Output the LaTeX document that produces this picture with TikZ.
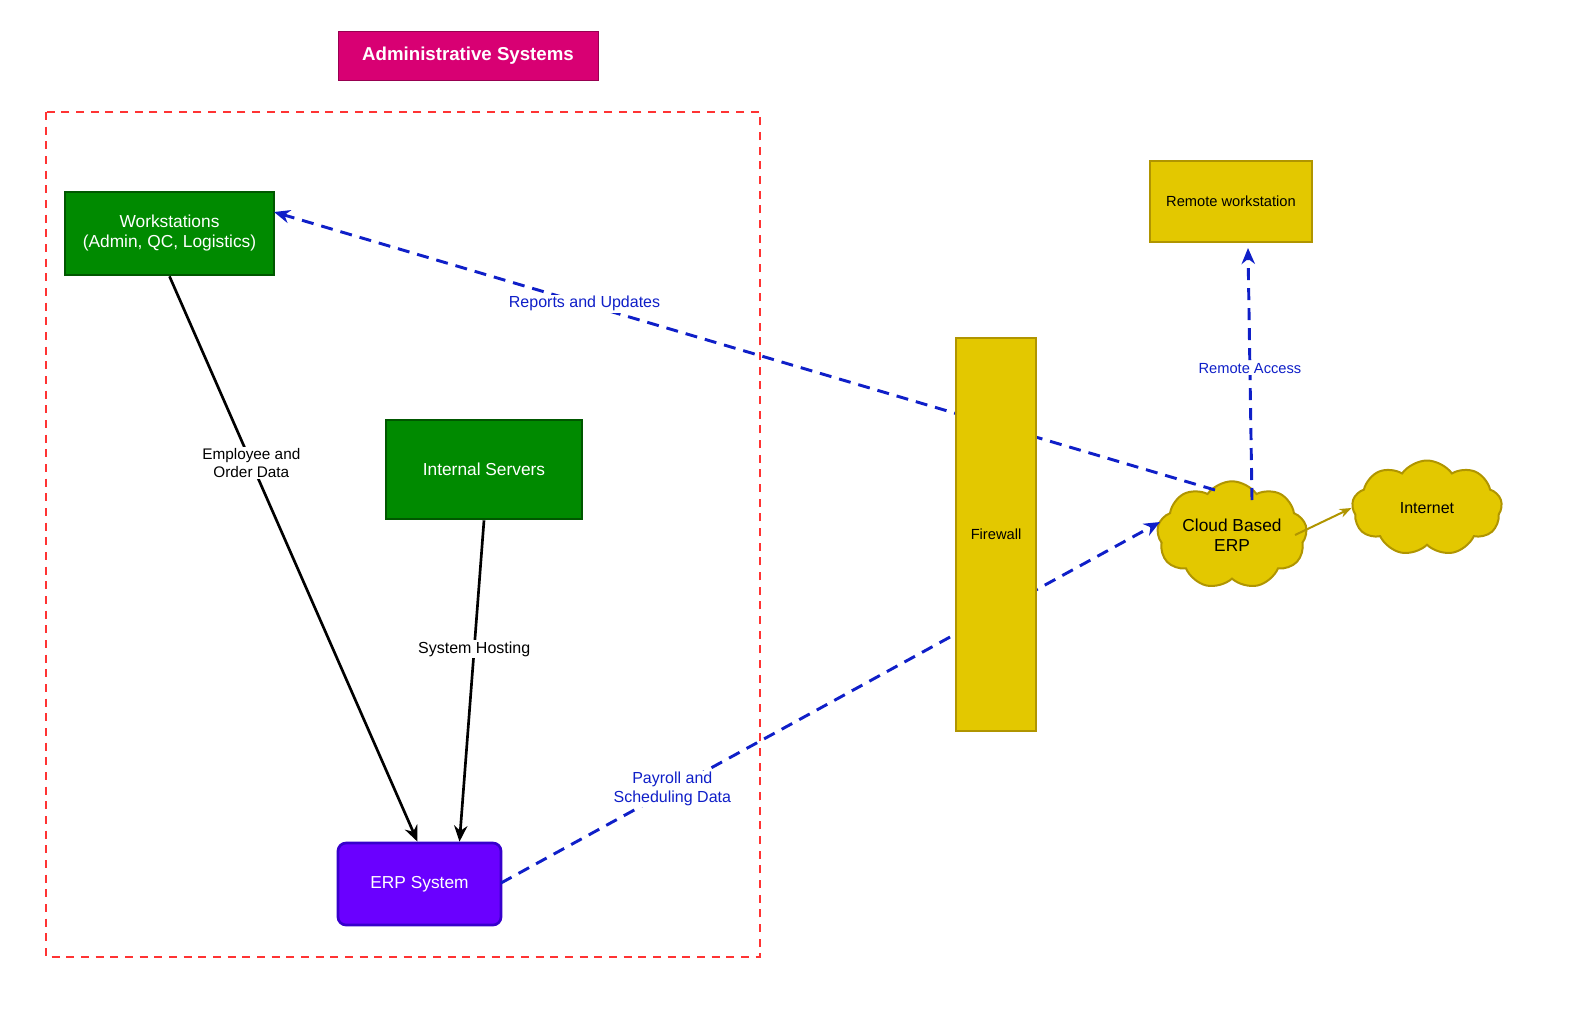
\documentclass[tikz,border=0pt]{standalone}
\usepackage{fontspec}
\setmainfont{Liberation Sans}
\usetikzlibrary{shapes.symbols,arrows.meta}
\definecolor{mag}{HTML}{D80073}
\definecolor{grn}{HTML}{008A00}
\definecolor{grnd}{HTML}{005700}
\definecolor{pur}{HTML}{6A00FF}
\definecolor{purd}{HTML}{3700CC}
\definecolor{yel}{HTML}{E3C800}
\definecolor{yeld}{HTML}{B09500}
\definecolor{blu}{HTML}{0F1FC8}
\begin{document}
\begin{tikzpicture}[x=0.75pt,y=-0.75pt,
 box/.style={draw,line width=2pt,text=white,align=center,font=\fontsize{13}{15}\selectfont},
 ybox/.style={draw=yeld,fill=yel,line width=1pt,align=center,font=\fontsize{11}{13}\selectfont},
 cl/.style={cloud,cloud puffs=9,cloud puff arc=110,aspect=1.6,draw=yeld,fill=yel,line width=1.5pt,align=center,inner sep=0pt},
 blk/.style={line width=2pt,-{Stealth[length=12pt,width=10pt]}},
 bdash/.style={blu,line width=2.2pt,dash pattern=on 9pt off 6pt,-{Stealth[length=12pt,width=10pt]}},
 lbl/.style={fill=white,inner sep=1pt,align=center,font=\fontsize{12}{14}\selectfont}]
\useasboundingbox (0,0) rectangle (1592,1032);
\node[fill=mag,draw=mag!70!black,text=white,font=\bfseries\fontsize{14}{16}\selectfont,minimum width=260*0.75pt,minimum height=49*0.75pt] (title) at (468,55.5) {Administrative Systems};
\draw[red!80,line width=1pt,dash pattern=on 6pt off 5pt] (46,112) rectangle (760,957);
\node[box,fill=grn,draw=grnd,minimum width=209*0.75pt,minimum height=83*0.75pt] (ws) at (169.5,233.5) {Workstations\\(Admin, QC, Logistics)};
\node[box,fill=grn,draw=grnd,minimum width=196*0.75pt,minimum height=99*0.75pt] (is) at (484,469.5) {Internal Servers};
\node[box,fill=pur,draw=purd,rounded corners=6pt,minimum width=163*0.75pt,minimum height=82*0.75pt] (erp) at (419.5,884) {ERP System};
\node[ybox,minimum width=162*0.75pt,minimum height=81*0.75pt] (rw) at (1231,201.5) {Remote workstation};
\node[cl,minimum width=150*0.75pt,minimum height=95*0.75pt,font=\fontsize{13}{15}\selectfont] (cerp) at (1232,535) {Cloud Based\\ERP};
\node[cl,minimum width=150*0.75pt,minimum height=95*0.75pt,font=\fontsize{12}{14}\selectfont] (inet) at (1427,508) {Internet};
\coordinate (c1) at (1215,490);
\coordinate (c2) at (1160,522);
\coordinate (c3) at (1252,500);
\coordinate (wsR) at (274,212);
\coordinate (erpR) at (501,883);
\coordinate (rwB) at (1248,248);
\draw[bdash] (c1) -- node[lbl,pos=0.67] {Reports and Updates} (wsR);
\draw[bdash] (erpR) -- node[lbl,pos=0.26] {Payroll and\\Scheduling Data} (c2);
\draw[bdash] (c3) -- node[lbl,pos=0.52,font=\fontsize{11}{13}\selectfont] {Remote Access} (rwB);
\node[ybox,minimum width=80*0.75pt,minimum height=393*0.75pt] (fw) at (996,534.5) {Firewall};
\draw[blk] (ws.south) -- node[lbl,pos=0.33,font=\fontsize{11.5}{13}\selectfont] {Employee and\\Order Data} ([xshift=-1.5pt]erp.north);
\draw[blk] (is.south) -- node[lbl,pos=0.4] {System Hosting} ([xshift=30pt]erp.north);
\draw[yeld,line width=1.5pt,-{Stealth[length=9pt]}] (1295,535) -- (inet.west);
\end{tikzpicture}
\end{document}
